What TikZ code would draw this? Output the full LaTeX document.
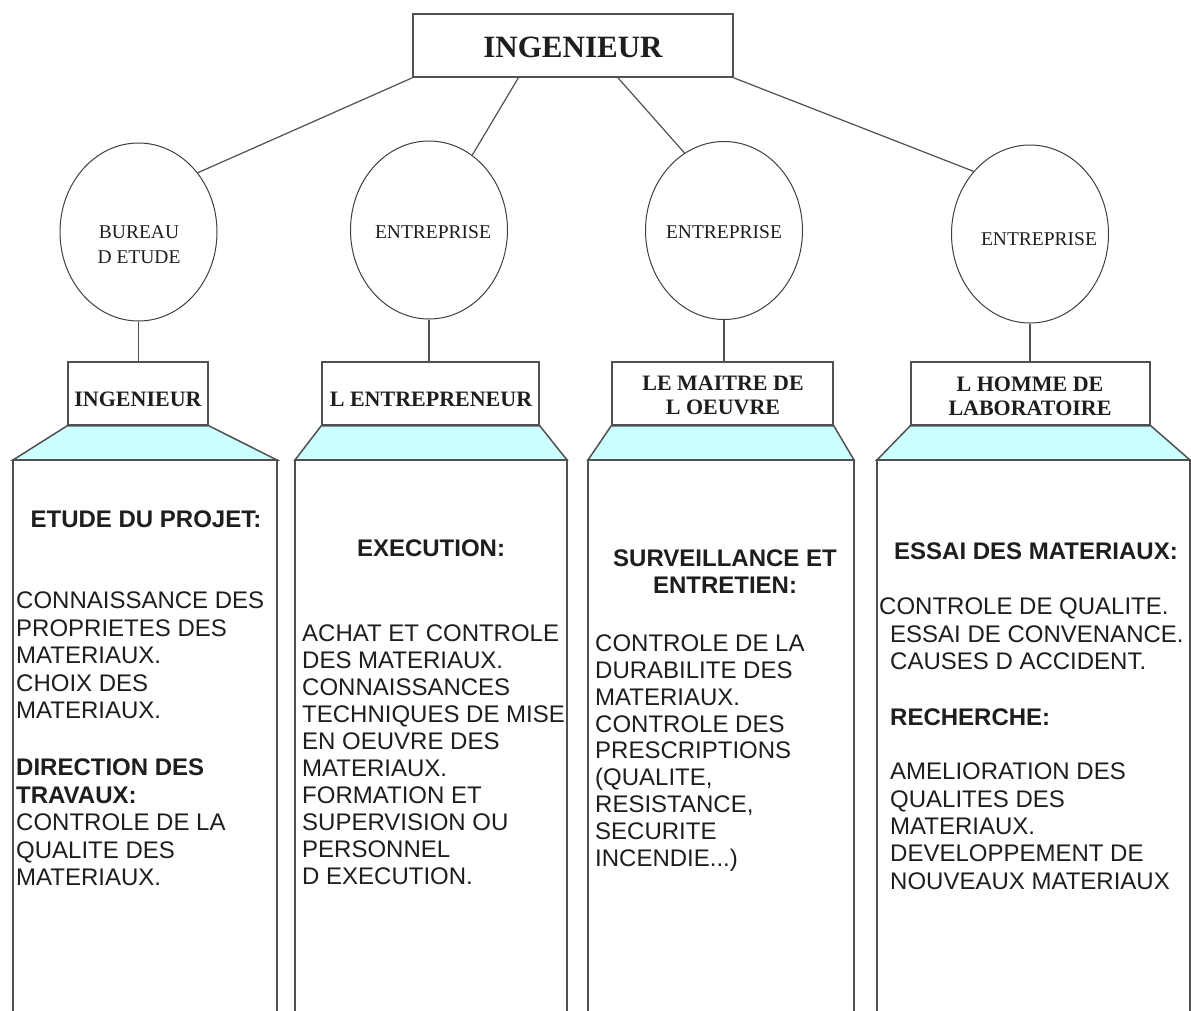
\documentclass[tikz,border=0pt]{standalone}
\usepackage{fontspec}
\setmainfont{Liberation Serif}
\newfontfamily\arialfont{Liberation Sans}
\usetikzlibrary{shapes.geometric,calc}
\definecolor{linegray}{HTML}{505050}
\definecolor{trapcyan}{HTML}{CCFFFF}
\definecolor{inkc}{HTML}{1E1E1E}
\begin{document}
\begin{tikzpicture}[x=1pt,y=-1pt,
 topbox/.style={draw=linegray, line width=1.8pt, minimum width=320pt, minimum height=63pt, inner sep=0pt},
 toplabel/.style={font=\fontsize{31}{34}\selectfont\bfseries, text=inkc, inner sep=0pt},
 rolebox/.style={draw=linegray, line width=1.5pt, minimum height=63pt, inner sep=0pt},
 rolelabel/.style={font=\fontsize{22}{24}\selectfont\bfseries, text=inkc, align=center, inner sep=0pt},
 oval/.style={draw=linegray!80!black, line width=1pt, ellipse, minimum width=157pt, minimum height=178pt, inner sep=0pt},
 ovallabel/.style={font=\fontsize{19.5}{25}\selectfont, text=inkc, align=center, inner sep=0pt},
 link/.style={draw=linegray, line width=1.2pt},
 trap/.style={fill=trapcyan, draw=linegray, line width=1.5pt},
 colline/.style={draw=linegray, line width=2pt},
 bodyl/.style={font=\arialfont\fontsize{24}{27}\selectfont, text=inkc, anchor=base west, inner sep=0pt},
 headl/.style={font=\arialfont\bfseries\fontsize{24}{27}\selectfont, text=inkc, anchor=base west, inner sep=0pt},
 headc/.style={font=\arialfont\bfseries\fontsize{24}{27}\selectfont, text=inkc, anchor=base, inner sep=0pt},
]
\fill[white] (0,0) rectangle (1191,1010);
\useasboundingbox (0,0) rectangle (1191,1010);

% top box
\node[topbox] (top) at (573,45.5) {};
\node[toplabel] (toptxt) at (573,47) {INGENIEUR};

% ovals
\node[oval] (c1) at (138.5,232) {};
\node[oval] (c2) at (429,230) {};
\node[oval] (c3) at (724,230.5) {};
\node[oval] (c4) at (1030,234) {};
\node[ovallabel] (c1t) at (139,244.5) {BUREAU\\D ETUDE};
\node[ovallabel] (c2t) at (433,232) {ENTREPRISE};
\node[ovallabel] (c3t) at (724,232) {ENTREPRISE};
\node[ovallabel] (c4t) at (1039,239) {ENTREPRISE};

% connectors from top
\draw[link] (top.south west) -- (c1.45);
\draw[link] ($(top.south west)!0.33!(top.south east)$) -- (c2.60);
\draw[link] ($(top.south west)!0.64!(top.south east)$) -- (c3.117);
\draw[link] (top.south east) -- (c4.132);

% role boxes
\node[rolebox, minimum width=140pt] (b1) at (138,393.5) {};
\node[rolebox, minimum width=217pt] (b2) at (430.5,393.5) {};
\node[rolebox, minimum width=221pt] (b3) at (722.5,393.5) {};
\node[rolebox, minimum width=239pt] (b4) at (1030.5,393.5) {};
\node[rolelabel] (b1t) at (138,399) {INGENIEUR};
\node[rolelabel] (b2t) at (431,399) {L ENTREPRENEUR};
\node[rolelabel] (b3t) at (723,395) {LE MAITRE DE\\L OEUVRE};
\node[rolelabel] (b4t) at (1030,396.5) {L HOMME DE\\LABORATOIRE};

\draw[link] (c1.south) -- (c1.south |- b1.north);
\draw[link] (c2.south) -- (c2.south |- b2.north);
\draw[link] (c3.south) -- (c3.south |- b3.north);
\draw[link] (c4.south) -- (c4.south |- b4.north);

% columns
\coordinate (k1tl) at (13,460);  \coordinate (k1tr) at (277,460);
\coordinate (k2tl) at (295,460); \coordinate (k2tr) at (567,460);
\coordinate (k3tl) at (588,460); \coordinate (k3tr) at (854,460);
\coordinate (k4tl) at (877,460); \coordinate (k4tr) at (1190,460);
\coordinate (k1bl) at (13,1012);  \coordinate (k1br) at (277,1012);
\coordinate (k2bl) at (295,1012); \coordinate (k2br) at (567,1012);
\coordinate (k3bl) at (588,1012); \coordinate (k3br) at (854,1012);
\coordinate (k4bl) at (877,1012); \coordinate (k4br) at (1190,1012);

\filldraw[trap] (b1.south west) -- (b1.south east) -- (k1tr) -- (k1tl) -- cycle;
\filldraw[trap] (b2.south west) -- (b2.south east) -- (k2tr) -- (k2tl) -- cycle;
\filldraw[trap] (b3.south west) -- (b3.south east) -- (k3tr) -- (k3tl) -- cycle;
\filldraw[trap] (b4.south west) -- (b4.south east) -- (k4tr) -- (k4tl) -- cycle;

\draw[colline] (k1bl) -- (k1tl) -- (k1tr) -- (k1br);
\draw[colline] (k2bl) -- (k2tl) -- (k2tr) -- (k2br);
\draw[colline] (k3bl) -- (k3tl) -- (k3tr) -- (k3br);
\draw[colline] (k4bl) -- (k4tl) -- (k4tr) -- (k4br);

% column 1
\node[headc] (a0) at (146,527.6) {ETUDE DU PROJET:};
\node[bodyl] (a1) at (16,608.6) {CONNAISSANCE DES};
\node[bodyl] (a2) at (16,636.1) {PROPRIETES DES};
\node[bodyl] (a3) at (16,663.6) {MATERIAUX.};
\node[bodyl] (a4) at (16,691.1) {CHOIX DES};
\node[bodyl] (a5) at (16,718.6) {MATERIAUX.};
\node[headl] (a6) at (16,775.6) {DIRECTION DES};
\node[headl] (a7) at (16,803.1) {TRAVAUX:};
\node[bodyl] (a8) at (16,830.6) {CONTROLE DE LA};
\node[bodyl] (a9) at (16,858.1) {QUALITE DES};
\node[bodyl] (a10) at (16,885.6) {MATERIAUX.};

% column 2
\node[headc] (e0) at (431,556.6) {EXECUTION:};
\node[bodyl] (e1) at (302,641.6) {ACHAT ET CONTROLE};
\node[bodyl] (e2) at (302,668.6) {DES MATERIAUX.};
\node[bodyl] (e3) at (302,695.6) {CONNAISSANCES};
\node[bodyl] (e4) at (302,722.6) {TECHNIQUES DE MISE};
\node[bodyl] (e5) at (302,749.6) {EN OEUVRE DES};
\node[bodyl] (e6) at (302,776.6) {MATERIAUX.};
\node[bodyl] (e7) at (302,803.6) {FORMATION ET};
\node[bodyl] (e8) at (302,830.6) {SUPERVISION OU};
\node[bodyl] (e9) at (302,857.6) {PERSONNEL};
\node[bodyl] (e10) at (302,884.6) {D EXECUTION.};

% column 3
\node[headc] (s0) at (725,566.6) {SURVEILLANCE ET};
\node[headc] (s1) at (725,593.6) {ENTRETIEN:};
\node[bodyl] (s2) at (595,651.6) {CONTROLE DE LA};
\node[bodyl] (s3) at (595,678.4) {DURABILITE DES};
\node[bodyl] (s4) at (595,705.2) {MATERIAUX.};
\node[bodyl] (s5) at (595,732.0) {CONTROLE DES};
\node[bodyl] (s6) at (595,758.8) {PRESCRIPTIONS};
\node[bodyl] (s7) at (595,785.6) {(QUALITE,};
\node[bodyl] (s8) at (595,812.4) {RESISTANCE,};
\node[bodyl] (s9) at (595,839.2) {SECURITE};
\node[bodyl] (s10) at (595,866.0) {INCENDIE...)};

% column 4
\node[headc] (r0) at (1036,559.6) {ESSAI DES MATERIAUX:};
\node[bodyl] (r1) at (879,614.6) {CONTROLE DE QUALITE.};
\node[bodyl] (r2) at (890,642.6) {ESSAI DE CONVENANCE.};
\node[bodyl] (r3) at (890,669.6) {CAUSES D ACCIDENT.};
\node[headl] (r4) at (890,725.6) {RECHERCHE:};
\node[bodyl] (r5) at (890,779.6) {AMELIORATION DES};
\node[bodyl] (r6) at (890,807.6) {QUALITES DES};
\node[bodyl] (r7) at (890,834.6) {MATERIAUX.};
\node[bodyl] (r8) at (890,861.6) {DEVELOPPEMENT DE};
\node[bodyl] (r9) at (890,889.6) {NOUVEAUX MATERIAUX};
\end{tikzpicture}
\end{document}
